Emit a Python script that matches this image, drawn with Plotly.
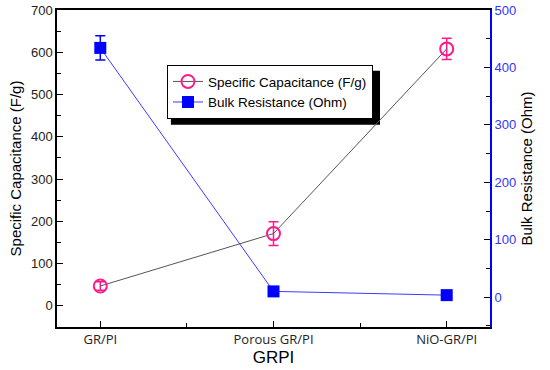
import plotly.graph_objects as go

categories = ["GR/PI", "Porous GR/PI", "NiO-GR/PI"]
capacitance = [47, 171, 608]
capacitance_err = [10, 28, 25]
resistance = [434, 10, 3.5]
resistance_err = [21, 3, 2]

x_idx = [0, 1, 2]

fig = go.Figure()
fig.add_trace(go.Scatter(
    x=x_idx, y=capacitance, name="Specific Capacitance (F/g)",
    mode="lines+markers",
    line=dict(color="#555555", width=1),
    marker=dict(symbol="circle-open", size=13, color="#ff1a8c", line=dict(width=2, color="#ff1a8c")),
    error_y=dict(type="data", array=capacitance_err, color="#ff1a8c", thickness=1.5, width=5),
))
fig.add_trace(go.Scatter(
    x=x_idx, y=resistance, name="Bulk Resistance (Ohm)",
    mode="lines+markers", yaxis="y2",
    line=dict(color="#3b3bff", width=1),
    marker=dict(symbol="square", size=12, color="#0000ff"),
    error_y=dict(type="data", array=resistance_err, color="#0000ff", thickness=1.5, width=5),
))

fig.update_layout(
    width=550, height=370,
    margin=dict(l=57, r=60, t=10, b=43, autoexpand=False),
    paper_bgcolor="white", plot_bgcolor="white",
    font=dict(family="Liberation Sans, Arial", size=13, color="#222"),
    showlegend=True,
    legend=dict(x=0.254, y=0.826, xanchor="left", yanchor="top",
                bgcolor="white", bordercolor="black", borderwidth=1,
                font=dict(size=13.5, color="black"), tracegroupgap=0,
                itemwidth=30),
    xaxis=dict(
        range=[-0.25, 2.25], tickmode="array", tickvals=x_idx, ticktext=categories,
        ticks="inside", ticklen=6, tickcolor="black",
        minor=dict(tickvals=[0.5, 1.5], ticks="inside", ticklen=4, tickcolor="black"),
        showline=True, linecolor="black", linewidth=1.5, mirror=True,
        showgrid=False, zeroline=False, automargin=False,
        tickfont=dict(family="Open Sans", size=13, color="#222"),
        title=dict(text="GRPI", font=dict(size=17, color="black"), standoff=3),
    ),
    yaxis=dict(
        range=[-50, 700], tickvals=[0, 100, 200, 300, 400, 500, 600, 700],
        ticks="inside", ticklen=6, tickcolor="black",
        minor=dict(dtick=50, tick0=50, ticks="inside", ticklen=4, tickcolor="black"),
        showline=True, linecolor="black", linewidth=1.5,
        showgrid=False, zeroline=False, automargin=False,
        ticklabeloverflow="allow",
        tickfont=dict(size=13, color="#222"),
        title=dict(text="Specific Capacitance (F/g)", font=dict(size=15, color="black"), standoff=6),
    ),
    yaxis2=dict(
        range=[-52, 500], tickvals=[0, 100, 200, 300, 400, 500],
        overlaying="y", side="right",
        ticks="inside", ticklen=6, tickcolor="black",
        minor=dict(dtick=50, tick0=50, ticks="inside", ticklen=4, tickcolor="black"),
        showline=True, linecolor="#0000ff", linewidth=2,
        showgrid=False, zeroline=False, automargin=False,
        ticklabeloverflow="allow",
        tickfont=dict(size=13, color="#3333ff"),
        title=dict(text="Bulk Resistance (Ohm)", font=dict(size=15, color="black"), standoff=6),
    ),
)

# legend drop shadow
fig.add_shape(type="rect", xref="paper", yref="paper",
              x0=0.263, x1=0.746, y0=0.638, y1=0.808,
              fillcolor="black", line=dict(width=0), layer="below")

fig.write_html("out.html", config={"displayModeBar": False},
               post_script="document.body.style.margin='0';")
